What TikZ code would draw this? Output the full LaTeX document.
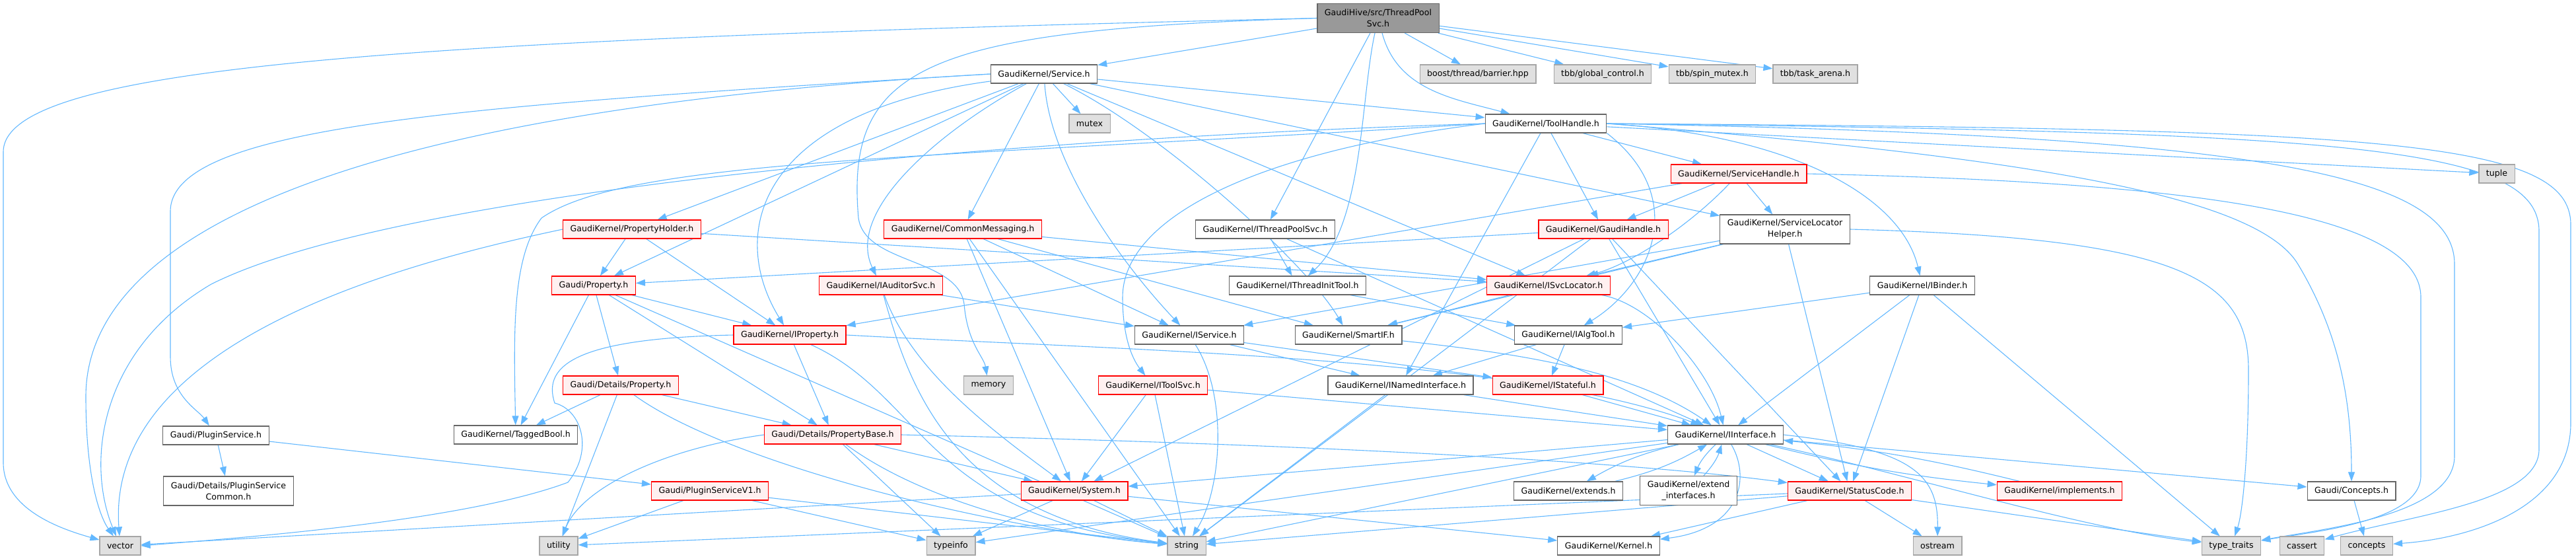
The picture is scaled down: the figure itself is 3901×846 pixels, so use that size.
\documentclass[tikz,border=0pt]{standalone}
\usepackage{fontspec}
\setmainfont{DejaVu Sans}
\usetikzlibrary{arrows.meta,backgrounds}

\definecolor{edgeblue}{HTML}{63B8FF}
\definecolor{leafgray}{HTML}{E0E0E0}
\definecolor{rootgray}{HTML}{999999}
\definecolor{cutfill}{HTML}{FFF0F0}

\begin{document}
\begin{tikzpicture}[x=1pt, y=-1pt,
  hdr/.style={draw=black!60, fill=white, line width=1.2pt, minimum height=28pt,
    inner xsep=11pt, inner ysep=0pt, font=\fontsize{12.6}{17}\selectfont},
  sysh/.style={hdr, draw=black!35, fill=leafgray},
  cut/.style={hdr, draw=red, fill=cutfill},
  twoline/.style={hdr, align=center, minimum height=44pt},
  root/.style={twoline, fill=rootgray},
  dep/.style={draw=edgeblue, line width=1.1pt, -{Triangle[length=14pt,width=10pt]}}]
\useasboundingbox (0,0) rectangle (3901,846);

\node[root] (tps) at (2087,27.5) {GaudiHive/src/ThreadPool\\Svc.h};

\node[hdr] (svc) at (1581,112) {GaudiKernel/Service.h};
\node[sysh] (boost) at (2238,112) {boost/thread/barrier.hpp};
\node[sysh] (tbbgc) at (2427,112) {tbb/global\_control.h};
\node[sysh] (tbbsm) at (2593,112) {tbb/spin\_mutex.h};
\node[sysh] (tbbta) at (2749,112) {tbb/task\_arena.h};

\node[sysh] (mutex) at (1650,187) {mutex};
\node[hdr] (toolh) at (2341,187) {GaudiKernel/ToolHandle.h};

\node[cut] (svch) at (2633,263) {GaudiKernel/ServiceHandle.h};
\node[sysh] (tuple) at (3781,263) {tuple};

\node[cut] (prh) at (957,347) {GaudiKernel/PropertyHolder.h};
\node[cut] (cmsg) at (1458,347) {GaudiKernel/CommonMessaging.h};
\node[hdr] (itps) at (1916,347) {GaudiKernel/IThreadPoolSvc.h};
\node[cut] (gh) at (2428,347) {GaudiKernel/GaudiHandle.h};
\node[twoline] (slh) at (2703,347) {GaudiKernel/ServiceLocator\\Helper.h};

\node[cut] (gprop) at (899,432) {Gaudi/Property.h};
\node[cut] (iaud) at (1334,432) {GaudiKernel/IAuditorSvc.h};
\node[hdr] (itit) at (1965,432) {GaudiKernel/IThreadInitTool.h};
\node[cut] (isl) at (2345,432) {GaudiKernel/ISvcLocator.h};
\node[hdr] (ibind) at (2911,432) {GaudiKernel/IBinder.h};

\node[cut] (iprop) at (1196,507) {GaudiKernel/IProperty.h};
\node[hdr] (isvc) at (1801,507) {GaudiKernel/IService.h};
\node[hdr] (sif) at (2042,507) {GaudiKernel/SmartIF.h};
\node[hdr] (ialg) at (2375,507) {GaudiKernel/IAlgTool.h};

\node[cut] (dprop) at (940,583) {Gaudi/Details/Property.h};
\node[sysh] (memory) at (1497,583) {memory};
\node[cut] (itsvc) at (1746,583) {GaudiKernel/IToolSvc.h};
\node[hdr] (inamed) at (2121,583) {GaudiKernel/INamedInterface.h};
\node[cut] (istate) at (2344,583) {GaudiKernel/IStateful.h};

\node[hdr] (plugin) at (327,659) {Gaudi/PluginService.h};
\node[hdr] (tbool) at (781,658) {GaudiKernel/TaggedBool.h};
\node[cut] (pbase) at (1261,658) {Gaudi/Details/PropertyBase.h};
\node[hdr] (iint) at (2613,658) {GaudiKernel/IInterface.h};

\node[twoline] (pscommon) at (346,743) {Gaudi/Details/PluginService\\Common.h};
\node[cut] (psv1) at (1075,743) {Gaudi/PluginServiceV1.h};
\node[cut] (system) at (1627,743) {GaudiKernel/System.h};
\node[hdr] (extends) at (2375,743) {GaudiKernel/extends.h};
\node[twoline] (extint) at (2557,742.5) {GaudiKernel/extend\\\_interfaces.h};
\node[cut] (status) at (2801,743) {GaudiKernel/StatusCode.h};
\node[cut] (impl) at (3119,743) {GaudiKernel/implements.h};
\node[hdr] (concepth) at (3561,743) {Gaudi/Concepts.h};

\node[sysh] (vector) at (182,826) {vector};
\node[sysh] (utility) at (846,826) {utility};
\node[sysh] (typeinfo) at (1440,826) {typeinfo};
\node[sysh] (string) at (1797,826) {string};
\node[hdr] (kernel) at (2436,826) {GaudiKernel/Kernel.h};
\node[sysh] (ostream) at (2934,826) {ostream};
\node[sysh] (ttraits) at (3379,826) {type\_traits};
\node[sysh] (cassert) at (3486,826) {cassert};
\node[sysh] (concepts) at (3584,826) {concepts};

\begin{scope}[on background layer]
\draw[dep] (tps) -- (svc);
\draw[dep] (tps) -- (boost);
\draw[dep] (tps) -- (tbbgc);
\draw[dep] (tps) -- (tbbsm);
\draw[dep] (tps) -- (tbbta);
\draw[dep] (tps) to[out=-75,in=165] (toolh);
\draw[dep] (tps) -- (itps);
\draw[dep] (tps) .. controls (2060,150) and (2065,340) .. (itit);
\draw[dep] (tps.west) .. controls (1400,45) and (1280,100) .. (1300,330) .. controls (1310,400) and (1450,390) .. (1460,460) .. controls (1465,520) and (1490,540) .. (memory);
\draw[dep] (tps.west) .. controls (600,60) and (5,100) .. (5,230) -- (5,700) .. controls (5,770) and (90,800) .. (vector);

\draw[dep] (svc) -- (prh);
\draw[dep] (svc) -- (cmsg);
\draw[dep] (svc) .. controls (1420,200) and (1280,320) .. (iaud);
\draw[dep] (svc) -- (gprop);
\draw[dep] (svc) .. controls (1150,170) and (1100,350) .. (iprop);
\draw[dep] (svc) .. controls (1590,250) and (1700,400) .. (isvc);
\draw[dep] (svc) .. controls (1760,200) and (1980,400) .. (sif);
\draw[dep] (svc) -- (isl);
\draw[dep] (svc) -- (slh);
\draw[dep] (svc) -- (toolh);
\draw[dep] (svc) -- (mutex);
\draw[dep] (svc.west) .. controls (700,160) and (258,190) .. (258,320) -- (258,540) .. controls (258,600) and (300,620) .. (plugin);
\draw[dep] (svc.west) .. controls (450,170) and (130,380) .. (130,600) .. controls (130,720) and (150,780) .. (vector);

\draw[dep] (toolh) -- (gh);
\draw[dep] (toolh) -- (svch);
\draw[dep] (toolh.south east) .. controls (2560,300) and (2500,430) .. (ialg);
\draw[dep] (toolh.east) .. controls (2720,205) and (2880,300) .. (ibind);
\draw[dep] (toolh) -- (inamed);
\draw[dep] (toolh.west) .. controls (1900,230) and (1700,330) .. (1700,450) .. controls (1700,520) and (1720,550) .. (itsvc);
\draw[dep] (toolh) -- (tuple);
\draw[dep] (toolh.west) .. controls (1400,240) and (950,240) .. (820,330) .. controls (775,390) and (778,500) .. (tbool);
\draw[dep] (toolh.west) .. controls (1500,210) and (600,290) .. (320,430) .. controls (150,530) and (130,700) .. (vector);
\draw[dep] (toolh.east) .. controls (3600,195) and (3893,210) .. (3893,340) -- (3893,640) .. controls (3893,770) and (3740,815) .. (concepts);
\draw[dep] (toolh.east) .. controls (3550,200) and (3845,220) .. (3845,350) -- (3845,680) .. controls (3845,760) and (3650,780) .. (cassert);
\draw[dep] (toolh.east) .. controls (3400,205) and (3717,260) .. (3717,400) -- (3717,690) .. controls (3717,780) and (3520,800) .. (ttraits);
\draw[dep] (toolh.east) .. controls (3100,240) and (3420,300) .. (3480,400) .. controls (3540,500) and (3561,600) .. (concepth);

\draw[dep] (svch) -- (gh);
\draw[dep] (svch) -- (slh);
\draw[dep] (svch) .. controls (2560,340) and (2470,400) .. (isl);
\draw[dep] (svch) -- (iprop);
\draw[dep] (svch.east) .. controls (3300,275) and (3666,320) .. (3666,450) -- (3666,720) .. controls (3666,790) and (3500,805) .. (ttraits);

\draw[dep] (gh) -- (gprop);
\draw[dep] (gh) -- (iint);
\draw[dep] (gh) -- (system);
\draw[dep] (gh) -- (status);
\draw[dep] (gh) -- (string);

\draw[dep] (slh) -- (isl);
\draw[dep] (slh) -- (isvc);
\draw[dep] (slh) -- (sif);
\draw[dep] (slh) -- (status);
\draw[dep] (slh.east) .. controls (3300,360) and (3405,420) .. (3405,560) .. controls (3405,700) and (3395,780) .. (ttraits);

\draw[dep] (prh) -- (gprop);
\draw[dep] (prh) -- (iprop);
\draw[dep] (prh) -- (isl);
\draw[dep] (prh.west) .. controls (600,400) and (160,520) .. (vector);

\draw[dep] (cmsg) -- (isvc);
\draw[dep] (cmsg) -- (isl);
\draw[dep] (cmsg) -- (sif);
\draw[dep] (cmsg) -- (system);
\draw[dep] (cmsg) -- (string);

\draw[dep] (itps) -- (itit);
\draw[dep] (itps) -- (iint);
\draw[dep] (itit) -- (ialg);

\draw[dep] (gprop) -- (tbool);
\draw[dep] (gprop) -- (dprop);
\draw[dep] (gprop) -- (pbase);
\draw[dep] (gprop) -- (iprop);
\draw[dep] (gprop) -- (string);

\draw[dep] (iaud) -- (isvc);
\draw[dep] (iaud) .. controls (1380,560) and (1500,650) .. (system);
\draw[dep] (iaud) .. controls (1380,600) and (1450,780) .. (string);

\draw[dep] (isl) -- (sif);
\draw[dep] (isl) .. controls (2500,460) and (2590,560) .. (iint);

\draw[dep] (ibind) -- (ialg);
\draw[dep] (ibind) -- (iint);
\draw[dep] (ibind) -- (status);
\draw[dep] (ibind) -- (ttraits);

\draw[dep] (iprop.east) .. controls (1700,530) and (2300,540) .. (iint);
\draw[dep] (iprop) -- (pbase);
\draw[dep] (iprop) .. controls (1400,600) and (1400,780) .. (string);
\draw[dep] (iprop.west) .. controls (880,512) and (820,550) .. (840,610) .. controls (880,620) and (900,680) .. (860,730) .. controls (700,790) and (350,815) .. (vector.east);

\draw[dep] (isvc) -- (inamed);
\draw[dep] (isvc) -- (istate);
\draw[dep] (isvc) .. controls (1860,600) and (1850,740) .. (string);
\draw[dep] (sif) .. controls (2300,535) and (2470,560) .. (iint);

\draw[dep] (ialg) -- (istate);
\draw[dep] (ialg) -- (inamed);

\draw[dep] (dprop) -- (tbool);
\draw[dep] (dprop) -- (pbase);
\draw[dep] (dprop) -- (utility);
\draw[dep] (dprop) .. controls (1100,700) and (1500,800) .. (string);

\draw[dep] (itsvc) -- (system);
\draw[dep] (itsvc) -- (string);
\draw[dep] (itsvc) -- (iint);

\draw[dep] (inamed) -- (iint);
\draw[dep] (inamed) -- (string);
\draw[dep] (istate) -- (iint);

\draw[dep] (plugin) -- (pscommon);
\draw[dep] (plugin) -- (psv1);

\draw[dep] (pbase.west) .. controls (1000,680) and (880,740) .. (utility);
\draw[dep] (pbase) -- (typeinfo);
\draw[dep] (pbase) -- (system);
\draw[dep] (pbase) .. controls (1400,760) and (1600,810) .. (string);
\draw[dep] (pbase.east) .. controls (1800,668) and (2400,690) .. (status);

\draw[dep] (iint) .. controls (2650,720) and (2640,800) .. (kernel);
\draw[dep] (iint) -- (status);
\draw[dep] (iint) -- (system);
\draw[dep] (iint) -- (string);
\draw[dep] (iint.east) .. controls (2900,680) and (2935,720) .. (ostream);
\draw[dep] (iint) .. controls (2900,720) and (3150,800) .. (ttraits);
\draw[dep] (iint) -- (typeinfo);
\draw[dep] (iint) -- (concepth);
\draw[dep] (iint) to[bend right=8] (extends);
\draw[dep] (extends) to[bend right=8] (iint);
\draw[dep] (iint) to[bend right=12] (extint);
\draw[dep] (extint) to[bend right=12] (iint);
\draw[dep] (iint) to[bend right=4] (impl);
\draw[dep] (impl) to[bend right=4] (iint);

\draw[dep] (status) -- (kernel);
\draw[dep] (status) -- (ostream);
\draw[dep] (status) -- (ttraits);
\draw[dep] (status) -- (utility);
\draw[dep] (status) -- (string);

\draw[dep] (system) -- (typeinfo);
\draw[dep] (system) -- (string);
\draw[dep] (system) -- (kernel);
\draw[dep] (system) -- (vector);

\draw[dep] (psv1) -- (utility);
\draw[dep] (psv1) -- (typeinfo);
\draw[dep] (psv1) -- (string);

\draw[dep] (concepth) -- (concepts);
\end{scope}
\end{tikzpicture}
\end{document}
